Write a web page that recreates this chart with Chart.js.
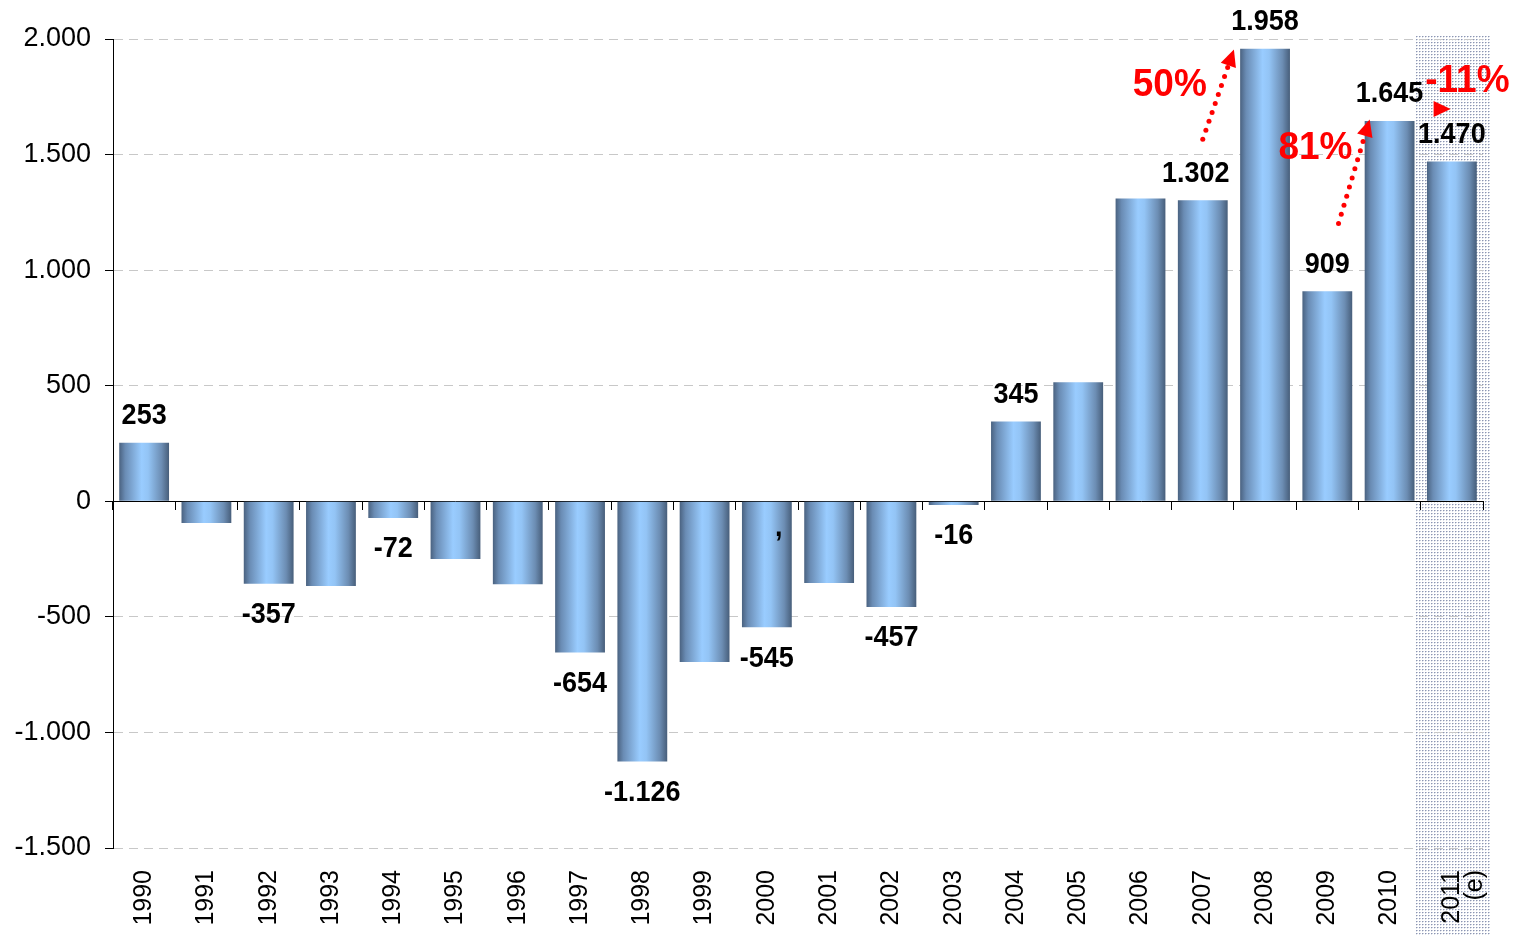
<!DOCTYPE html>
<html><head><meta charset="utf-8">
<script src="https://cdn.jsdelivr.net/npm/chart.js@4/dist/chart.umd.min.js"></script>
<style>html,body{margin:0;padding:0;background:#fff;} canvas{display:block;}</style>
</head><body>
<canvas id="c" width="1515" height="936"></canvas>
<script>
// ---- data ----
const years = ['1990','1991','1992','1993','1994','1995','1996','1997','1998','1999','2000','2001','2002','2003','2004','2005','2006','2007','2008','2009','2010',['2011','(e)']];
const values = [253,-94,-357,-366,-72,-250,-359,-654,-1126,-695,-545,-354,-457,-16,345,515,1310,1302,1958,909,1645,1470];
const labelledYears = ['1990','1992','1994','1997','1998','2000','2002','2003','2004','2007','2008','2009','2010','2011'];
const yTicks = [-1500,-1000,-500,0,500,1000,1500,2000];
const growthNotes = ['50%','81%','-11%'];

const FONT = "'Liberation Sans', Arial, Helvetica, sans-serif";
const fmt = n => (n < 0 ? '-' : '') + Math.abs(n).toString().replace(/\B(?=(\d{3})+(?!\d))/g, '.');
const yearKey = i => Array.isArray(years[i]) ? years[i][0] : years[i];

function barGradient(ctx) {
  const chart = ctx.chart;
  const xs = chart.scales.x;
  if (!xs || !chart.chartArea) return '#7fa6d2';
  const c = xs.getPixelForValue(ctx.dataIndex);
  const w = xs.width / years.length * 0.8;
  const g = chart.ctx.createLinearGradient(c - w / 2, 0, c + w / 2, 0);
  g.addColorStop(0, '#4a6280');
  g.addColorStop(0.12, '#6a8cb4');
  g.addColorStop(0.45, '#99ccff');
  g.addColorStop(0.58, '#93c4f5');
  g.addColorStop(0.85, '#6c8db3');
  g.addColorStop(1, '#475e7a');
  return g;
}

// shaded (estimate) zone behind 2011
const shadePlugin = {
  id: 'shade',
  beforeDraw(chart) {
    const {ctx, scales: {x, y}, chartArea} = chart;
    const tile = document.createElement('canvas');
    tile.width = 3; tile.height = 3;
    const t = tile.getContext('2d');
    t.fillStyle = 'rgba(120,130,165,0.85)';
    t.fillRect(0, 0, 1, 1);
    t.fillStyle = 'rgba(160,170,195,0.6)';
    t.fillRect(1, 0, 1, 1);
    t.fillStyle = 'rgba(185,192,210,0.45)';
    t.fillRect(0, 1, 1, 1);
    const pat = ctx.createPattern(tile, 'repeat');
    const half = x.width / years.length / 2;
    const left = x.getPixelForValue(years.length - 1) - half - 5;
    const right = chartArea.right + 8;
    const top = y.getPixelForValue(yTicks[yTicks.length - 1]) - 4;
    ctx.save();
    ctx.fillStyle = pat;
    ctx.fillRect(left, top, right - left, chart.height - top);
    ctx.restore();
  }
};

function tallText(ctx, txt, x, y, sy) {
  ctx.save();
  ctx.translate(x, y);
  ctx.scale(1, sy);
  ctx.fillText(txt, 0, 0);
  ctx.restore();
}

const labelPlugin = {
  id: 'valueLabels',
  afterDatasetsDraw(chart) {
    const ctx = chart.ctx;
    const meta = chart.getDatasetMeta(0);
    ctx.save();
    ctx.font = 'bold 27px ' + FONT;
    ctx.textAlign = 'center';
    ctx.textBaseline = 'middle';
    ctx.fillStyle = '#000';
    meta.data.forEach((bar, i) => {
      if (!labelledYears.includes(yearKey(i))) return;
      const v = values[i];
      const ty = v >= 0 ? bar.y - 27 : bar.y + 31;
      const dx = yearKey(i) === '2007' ? -7 : 0;
      tallText(ctx, fmt(v), bar.x + dx, ty, 1.12);
    });
    // stray comma visible in the original inside the 2000 bar
    const x = chart.scales.x, y = chart.scales.y;
    tallText(ctx, ',', x.getPixelForValue(10) + 12, y.getPixelForValue(0) + 26, 1.12);
    ctx.restore();
  }
};

function dottedArrow(ctx, x1, y1, x2, y2, withDots) {
  const dx = x2 - x1, dy = y2 - y1;
  const L = Math.hypot(dx, dy);
  const ux = dx / L, uy = dy / L;
  ctx.fillStyle = '#ff0000';
  if (withDots) {
    const end = L - 16;
    for (let d = 0; d <= end; d += 9.5) {
      ctx.beginPath();
      ctx.arc(x1 + ux * d, y1 + uy * d, 2.5, 0, Math.PI * 2);
      ctx.fill();
    }
  }
  const hl = 17, hw = 8;
  const bx = x2 - ux * hl, by = y2 - uy * hl;
  ctx.beginPath();
  ctx.moveTo(x2, y2);
  ctx.lineTo(bx - uy * hw, by + ux * hw);
  ctx.lineTo(bx + uy * hw, by - ux * hw);
  ctx.closePath();
  ctx.fill();
}

const notePlugin = {
  id: 'growthNotes',
  afterDatasetsDraw(chart) {
    const ctx = chart.ctx;
    const x = chart.scales.x, y = chart.scales.y;
    const P = (c, v) => [x.getPixelForValue(c), y.getPixelForValue(v)];
    ctx.save();
    let a = P(17.0, 1566), b = P(17.5, 1955);
    dottedArrow(ctx, a[0], a[1], b[0], b[1], true);
    a = P(19.18, 1202); b = P(19.68, 1652);
    dottedArrow(ctx, a[0], a[1], b[0], b[1], true);
    a = P(20.74, 1697); b = P(20.98, 1697);
    dottedArrow(ctx, a[0], a[1], b[0], b[1], false);
    ctx.font = 'bold 37px ' + FONT;
    ctx.textAlign = 'center';
    ctx.textBaseline = 'middle';
    ctx.fillStyle = '#ff0000';
    let p = P(16.47, 1799); tallText(ctx, growthNotes[0], p[0], p[1], 1.05);
    p = P(18.81, 1527); tallText(ctx, growthNotes[1], p[0], p[1], 1.05);
    p = P(21.25, 1817); tallText(ctx, growthNotes[2], p[0], p[1], 1.05);
    ctx.restore();
  }
};

new Chart(document.getElementById('c'), {
  type: 'bar',
  data: {
    labels: years,
    datasets: [{
      data: values,
      backgroundColor: barGradient,
      borderWidth: 0,
      categoryPercentage: 1.0,
      barPercentage: 0.8
    }]
  },
  options: {
    responsive: false,
    animation: false,
    devicePixelRatio: 1,
    layout: {padding: {left: 0, right: 32, top: 39, bottom: 0}},
    plugins: {legend: {display: false}, tooltip: {enabled: false}},
    scales: {
      x: {
        type: 'category',
        offset: true,
        grid: {display: false, drawTicks: false, offset: true},
        border: {display: false},
        ticks: {
          autoSkip: false, minRotation: 90, maxRotation: 90, padding: 22,
          color: '#000', font: {family: FONT, size: 25, lineHeight: 0.92}
        },
        afterFit: s => { s.height = 88; s.paddingLeft = 0; s.paddingRight = 0; }
      },
      x2: {
        type: 'category',
        axis: 'x',
        labels: years,
        offset: true,
        position: {y: 0},
        grid: {offset: true, drawOnChartArea: false, drawTicks: true, tickLength: 8, tickColor: '#000', color: '#000', tickWidth: 1},
        border: {display: true, color: '#000', width: 1},
        ticks: {display: false}
      },
      y: {
        min: yTicks[0],
        max: yTicks[yTicks.length - 1],
        afterBuildTicks: s => { s.ticks = yTicks.map(v => ({value: v})); },
        grid: {
          color: c => c.tick && c.tick.value === 0 ? 'rgba(0,0,0,0)' : '#c8c8c8',
          lineWidth: 1, tickLength: 8, tickColor: '#000', drawTicks: true
        },
        border: {display: true, color: '#000', width: 1, dash: [9, 6]},
        ticks: {
          padding: 14, color: '#000', font: {family: FONT, size: 27},
          callback: v => fmt(v)
        },
        afterFit: s => { s.width = 113; }
      }
    }
  },
  plugins: [shadePlugin, labelPlugin, notePlugin]
});
</script>
</body></html>
